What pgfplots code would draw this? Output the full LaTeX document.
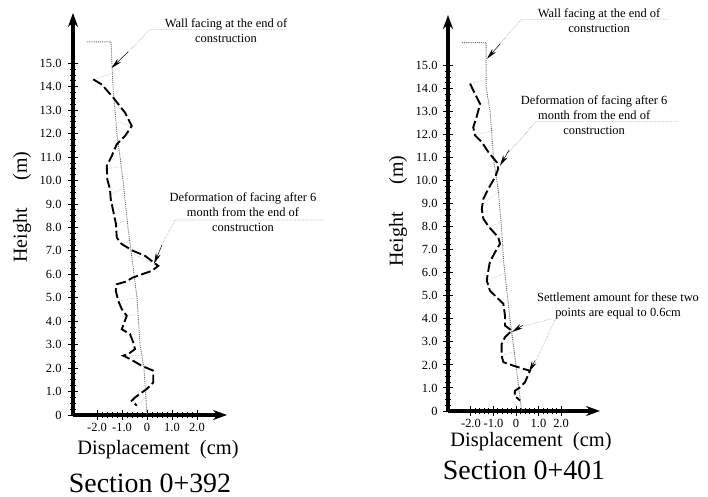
\documentclass[border=0pt]{standalone}
\usepackage{fontspec}
\setmainfont{Liberation Serif}
\usepackage{pgfplots}
\pgfplotsset{compat=1.18}
\usetikzlibrary{arrows.meta}
\pgfplotsset{wallax/.style={
  scale only axis, axis lines=left,
  axis line style={draw=none},
  ymin=0,
  xtick={-2,-1,0,1,2}, xticklabels={-2.0,-1.0,0,1.0,2.0},
  ytick={0,...,15},
  yticklabels={0,1.0,2.0,3.0,4.0,5.0,6.0,7.0,8.0,9.0,10.0,11.0,12.0,13.0,14.0,15.0},
  minor x tick num=4, minor y tick num=3,
  tick align=center, major tick length=10pt, minor tick length=7pt,
  tick style={black, line width=1pt},
  tick label style={font=\fontsize{12.5}{14}\selectfont},
  xticklabel style={yshift=0pt},
  clip=false, anchor=south west,
}}
\tikzset{
  defo/.style={black, line width=1.9pt, dash pattern=on 10pt off 3.5pt},
  wall/.style={gray!80!black, line width=0.9pt, densely dotted},
  conn/.style={gray!60, line width=0.5pt, densely dotted},
  lead/.style={gray!70, line width=0.6pt, densely dotted},
  arr/.style={black, line width=0.5pt, -{Stealth[length=11pt,width=5pt]}},
  ann/.style={font=\fontsize{12.5}{15}\selectfont, align=center},
  axl/.style={black, line width=3.3pt, -{Stealth[length=14pt,width=10pt]}},
}
\begin{document}
\begin{tikzpicture}
\useasboundingbox (0,0) rectangle (708bp,497bp);
% ---------------- Left: Section 0+392 ----------------
\begin{axis}[wallax, at={(73bp,82bp)}, width=154bp, height=402bp,
  xmin=-2.96, xmax=3.2, ymax=17.15,
  yticklabel style={anchor=east, xshift=-3pt}]
\draw[axl] (rel axis cs:0,0) -- (rel axis cs:1,0);
\draw[axl] (rel axis cs:0,0) -- (rel axis cs:0,1);
% connectors
\addplot[conn] coordinates {(-2.15,14.32) (-1.33,14.6)};
\addplot[conn] coordinates {(-0.61,12.33) (-1.15,12.5)};
\addplot[conn] coordinates {(-1.6,10.5) (-1.0,10.6)};
\addplot[conn] coordinates {(-1.45,9.4) (-0.9,9.7)};
\addplot[conn] coordinates {(-1.24,8.14) (-0.78,8.3)};
\addplot[conn] coordinates {(-1.01,7.29) (-0.62,7.5)};
\addplot[conn] coordinates {(-0.62,6.9) (0.45,6.36)};
\addplot[conn] coordinates {(-1.15,4.87) (-0.38,5.0)};
\addplot[conn] coordinates {(-1.01,4.2) (-0.35,4.3)};
\addplot[conn] coordinates {(-0.95,2.53) (-0.15,2.55)};
\addplot[conn] coordinates {(-0.01,1.11) (-0.05,1.6)};
\addplot[conn] coordinates {(-0.41,0.40) (-0.02,0.8)};
% wall facing at end of construction
\addplot[wall] coordinates {(-2.41,15.92) (-1.44,15.92) (-1.36,14.0) (-1.2,12.0)
  (-0.96,10.0) (-0.76,8.0) (-0.64,7.0) (-0.4,5.0) (-0.28,3.0) (-0.12,2.0) (0,0)};
% deformation after 6 months
\addplot[defo] coordinates {(-2.15,14.32) (-1.81,14.10) (-1.35,13.54) (-0.88,12.90)
  (-0.61,12.33) (-0.88,11.90) (-1.21,11.55) (-1.41,11.05) (-1.61,10.62) (-1.59,10.06)
  (-1.48,9.63) (-1.45,9.20) (-1.35,8.70) (-1.24,8.14) (-1.21,7.57) (-1.01,7.29)
  (-0.55,7.00) (-0.08,6.79) (0.45,6.36) (0.19,6.15) (-0.55,5.87) (-0.88,5.68)
  (-1.21,5.58) (-1.25,5.30) (-1.15,4.87) (-1.01,4.52) (-0.81,4.23) (-1.01,3.66)
  (-0.68,3.45) (-0.55,3.10) (-0.48,2.81) (-0.75,2.60) (-0.95,2.53) (-0.68,2.39)
  (-0.21,2.10) (0.25,1.89) (0.25,1.39) (-0.01,1.11) (-0.48,0.75) (-0.61,0.61) (-0.41,0.40)};
% annotations
\node[ann] at (axis cs:3.16,16.4) {Wall facing at the end of\\construction};
\draw[lead] (axis cs:5.5,16.45) -- (axis cs:0.12,16.45) -- (axis cs:-0.92,15.3);
\draw[arr] (axis cs:-0.75,15.5) -- (axis cs:-1.42,14.8);
\node[ann] at (axis cs:3.84,8.65) {Deformation of facing after 6\\month from the end of\\construction};
\draw[lead] (axis cs:7.1,8.32) -- (axis cs:1.12,8.32) -- (axis cs:0.56,7.2);
\draw[arr] (axis cs:0.6,7.25) -- (axis cs:0.28,6.45);
\end{axis}
% ---------------- Right: Section 0+401 ----------------
\begin{axis}[wallax, at={(448bp,86bp)}, width=152bp, height=396bp,
  xmin=-3.02, xmax=3.73, ymax=17.2,
  yticklabel style={anchor=east, xshift=-2pt}]
\draw[axl] (rel axis cs:0,0) -- (rel axis cs:1,0);
\draw[axl] (rel axis cs:0,0) -- (rel axis cs:0,1);
\addplot[conn] coordinates {(-2.04,14.22) (-1.3,14.4)};
\addplot[conn] coordinates {(-1.6,13.35) (-1.15,13.4)};
\addplot[conn] coordinates {(-1.82,11.97) (-1.0,12.2)};
\addplot[conn] coordinates {(-0.93,10.16) (-0.78,10.3)};
\addplot[conn] coordinates {(-1.45,9.0) (-0.7,9.6)};
\addplot[conn] coordinates {(-1.23,7.99) (-0.62,8.2)};
\addplot[conn] coordinates {(-0.93,6.9) (-0.55,7.2)};
\addplot[conn] coordinates {(-1.3,5.67) (-0.45,6.0)};
\addplot[conn] coordinates {(-0.64,2.4) (-0.05,2.6)};
\addplot[conn] coordinates {(-0.07,0.67) (0.15,0.9)};
\addplot[wall] coordinates {(-2.4,16.0) (-1.33,16.0) (-1.33,14.1) (-1.15,13.0) (-1.0,11.0)
  (-0.78,9.5) (-0.64,7.9) (-0.55,6.5) (-0.27,4.0) (0,2.0) (0.25,0)};
\addplot[defo] coordinates {(-2.04,14.22) (-1.90,13.93) (-1.75,13.64) (-1.6,13.35)
  (-1.67,13.06) (-1.75,12.77) (-1.9,12.33) (-1.82,11.97) (-1.52,11.68) (-1.23,11.25)
  (-0.86,10.81) (-0.79,10.52) (-0.93,10.16) (-1.23,9.65) (-1.45,9.22) (-1.52,8.78)
  (-1.45,8.35) (-1.2,7.99) (-0.79,7.55) (-0.71,7.26) (-0.93,6.9) (-1.16,6.47)
  (-1.23,6.1) (-1.3,5.67) (-1.16,5.23) (-0.86,4.94) (-0.56,4.65) (-0.49,4.14)
  (-0.49,3.71) (-0.19,3.49) (-0.49,3.2) (-0.64,2.91) (-0.64,2.4) (-0.56,2.12)
  (-0.12,1.97) (0.33,1.83) (0.62,1.75) (0.4,1.25) (0.18,1.03) (-0.04,0.88)
  (-0.07,0.67) (0.18,0.45)};
\node[ann] at (axis cs:3.69,16.95) {Wall facing at the end of\\construction};
\draw[lead] (axis cs:6.7,17.0) -- (axis cs:0.22,17.0) -- (axis cs:-0.84,15.8);
\draw[arr] (axis cs:-0.7,15.95) -- (axis cs:-1.29,15.3);
\node[ann] at (axis cs:3.47,12.85) {Deformation of facing after 6\\month from the end of\\construction};
\draw[lead] (axis cs:7.2,12.57) -- (axis cs:0.89,12.57) -- (axis cs:-0.35,11.2);
\draw[arr] (axis cs:-0.3,11.35) -- (axis cs:-0.71,10.65);
\node[ann] at (axis cs:4.53,4.55) {Settlement amount for these two\\points are equal to 0.6cm};
\draw[lead] (axis cs:1.55,4.0) -- (axis cs:0.2,3.65);
\draw[arr] (axis cs:0.3,3.72) -- (axis cs:-0.18,3.43);
\draw[lead] (axis cs:1.75,4.0) -- (axis cs:0.85,2.1);
\draw[arr] (axis cs:0.85,2.2) -- (axis cs:0.58,1.7);
\end{axis}
% ---------------- outer labels ----------------
\node[rotate=90, font=\fontsize{20}{24}\selectfont] at (22bp,290bp) {Height\hspace{1.4em}(m)};
\node[rotate=90, font=\fontsize{20}{24}\selectfont] at (398bp,286bp) {Height\hspace{1.4em}(m)};
\node[font=\fontsize{20.5}{24}\selectfont] at (158bp,47bp) {Displacement\ \ (cm)};
\node[font=\fontsize{20.5}{24}\selectfont] at (531bp,55bp) {Displacement\ \ (cm)};
\node[font=\fontsize{28}{32}\selectfont] at (150bp,14bp) {Section 0+392};
\node[font=\fontsize{28}{32}\selectfont] at (524bp,27bp) {Section 0+401};
\end{tikzpicture}
\end{document}
